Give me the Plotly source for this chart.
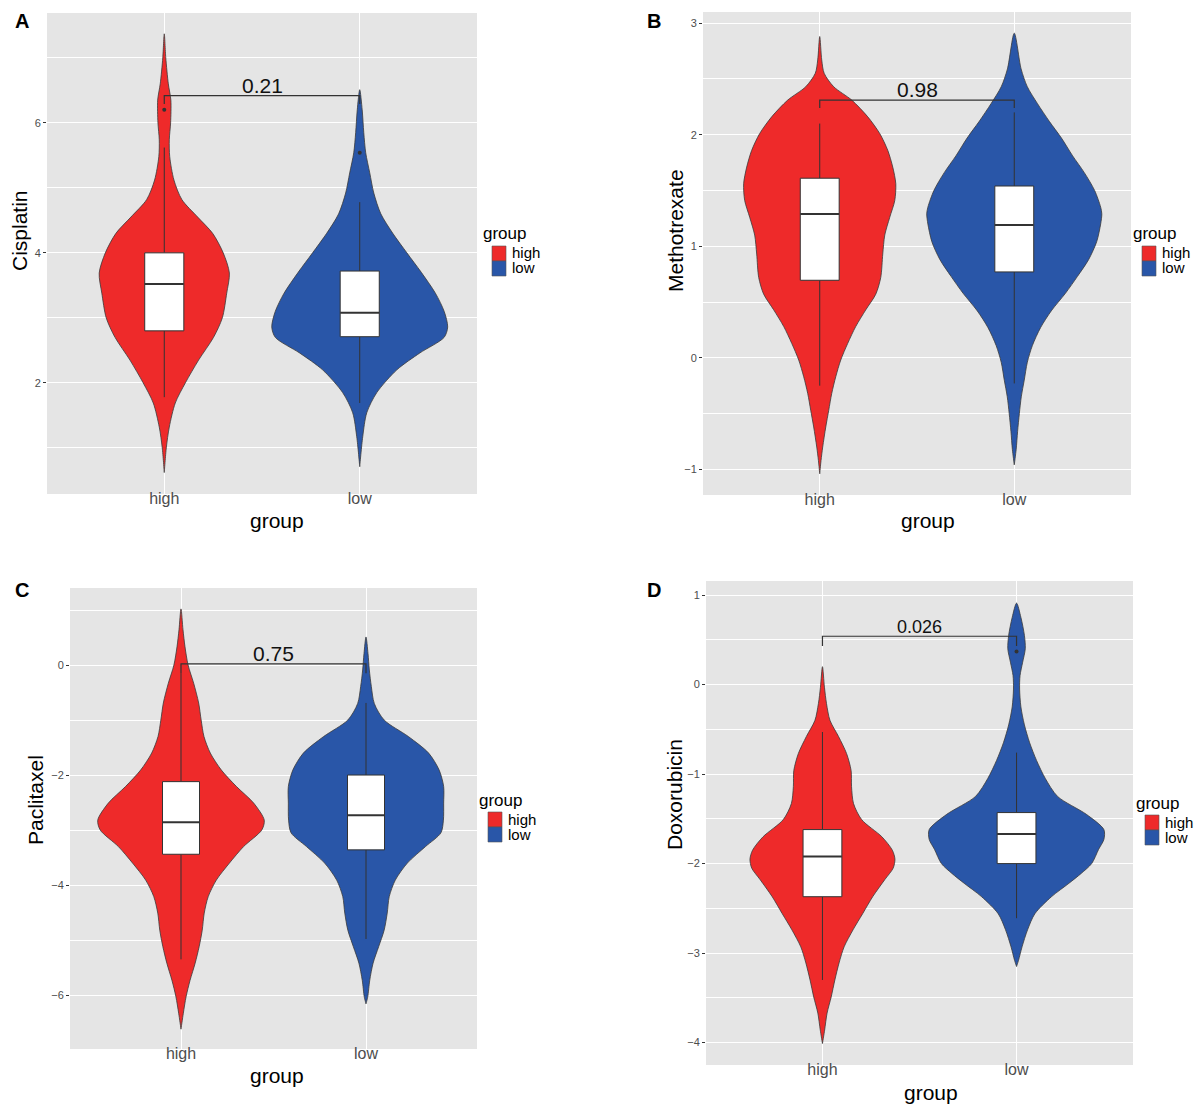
import plotly.graph_objects as go

W, H = 1201, 1104
FONT = "Liberation Sans, Arial, Helvetica, sans-serif"
RED = "#EE2A2A"
BLUE = "#2956A8"
OUTLINE = "#3A3A3A"
INK = "#333333"
PANEL_BG = "#E5E5E5"

groups = ["high", "low"]
group_colors = [RED, BLUE]

# ---------------- Cisplatin ----------------
cis_high_lvl = [7.37, 7.0, 6.6, 6.35, 6.0, 5.74, 5.48, 5.12, 4.82, 4.55, 4.3, 4.0, 3.69, 3.38,
                3.0, 2.7, 2.35, 2.0, 1.69, 1.32, 1.0, 0.62]
cis_high_dens = [0, 0.017, 0.046, 0.075, 0.072, 0.057, 0.062, 0.11, 0.2, 0.38, 0.55, 0.67, 0.74,
                 0.71, 0.66, 0.56, 0.39, 0.24, 0.125, 0.057, 0.023, 0]
cis_low_lvl = [6.51, 6.2, 5.85, 5.54, 5.23, 4.92, 4.6, 4.3, 4.0, 3.7, 3.38, 3.1, 2.86, 2.7, 2.46,
               2.2, 1.85, 1.54, 1.17, 0.71]
cis_low_dens = [0, 0.028, 0.046, 0.068, 0.114, 0.16, 0.24, 0.376, 0.536, 0.7, 0.86, 0.96, 1.0,
                0.96, 0.684, 0.422, 0.194, 0.08, 0.034, 0]
cis_q1 = [2.80, 2.71]
cis_median = [3.52, 3.08]
cis_q3 = [4.00, 3.72]
cis_lower = [1.78, 1.69]
cis_upper = [5.62, 4.78]
cis_outliers = [[6.20], [5.54]]
cis_p = "0.21"
cis_bracket = [6.42, 6.29]

# ---------------- Methotrexate ----------------
mtx_high_lvl = [2.88, 2.67, 2.55, 2.43, 2.31, 2.16, 2.01, 1.86, 1.71, 1.56, 1.41, 1.26, 1.1, 0.93,
                0.72, 0.57, 0.43, 0.28, 0.13, -0.02, -0.17, -0.32, -0.47, -0.62, -0.8, -0.92, -1.04]
mtx_high_dens = [0, 0.023, 0.051, 0.16, 0.366, 0.549, 0.686, 0.777, 0.834, 0.869, 0.857, 0.8, 0.743,
                 0.72, 0.697, 0.64, 0.526, 0.411, 0.32, 0.24, 0.183, 0.137, 0.103, 0.069, 0.034,
                 0.015, 0]
mtx_low_lvl = [2.91, 2.59, 2.43, 2.28, 2.12, 1.97, 1.81, 1.66, 1.5, 1.35, 1.29, 1.2, 1.04, 0.88,
               0.73, 0.58, 0.42, 0.27, 0.11, -0.04, -0.2, -0.35, -0.5, -0.66, -0.82, -0.96]
mtx_low_dens = [0, 0.078, 0.149, 0.264, 0.4, 0.539, 0.667, 0.8, 0.918, 0.987, 1.0, 0.987, 0.941,
                0.849, 0.722, 0.586, 0.422, 0.3, 0.207, 0.149, 0.114, 0.08, 0.058, 0.038, 0.022, 0]
mtx_q1 = [0.695, 0.77]
mtx_median = [1.29, 1.19]
mtx_q3 = [1.61, 1.54]
mtx_lower = [-0.25, -0.23]
mtx_upper = [2.10, 2.20]
mtx_outliers = [[], []]
mtx_p = "0.98"
mtx_bracket = [2.31, 2.24]

# ---------------- Paclitaxel ----------------
pac_high_lvl = [1.02, 0.64, 0.33, 0.0, -0.33, -0.69, -1.0, -1.3, -1.6, -1.91, -2.21, -2.51, -2.82,
                -3.0, -3.3, -3.6, -3.91, -4.21, -4.51, -4.82, -5.12, -5.42, -5.73, -6.03, -6.33,
                -6.62]
pac_high_dens = [0, 0.024, 0.048, 0.085, 0.152, 0.212, 0.242, 0.276, 0.352, 0.485, 0.667, 0.873,
                 1.0, 0.97, 0.752, 0.582, 0.424, 0.327, 0.279, 0.255, 0.218, 0.17, 0.109, 0.061,
                 0.028, 0]
pac_low_lvl = [0.51, 0.21, -0.09, -0.39, -0.7, -1.0, -1.3, -1.6, -1.91, -2.21, -2.51, -2.82, -3.05,
               -3.3, -3.6, -3.91, -4.21, -4.51, -4.82, -5.12, -5.42, -5.73, -6.03, -6.16]
pac_low_dens = [0, 0.024, 0.04, 0.064, 0.1, 0.218, 0.509, 0.752, 0.879, 0.933, 0.933, 0.93, 0.9,
                0.715, 0.497, 0.352, 0.279, 0.255, 0.218, 0.152, 0.085, 0.045, 0.021, 0]
pac_q1 = [-3.44, -3.36]
pac_median = [-2.86, -2.73]
pac_q3 = [-2.12, -2.00]
pac_lower = [-5.35, -4.98]
pac_upper = [-0.15, -0.69]
pac_outliers = [[], []]
pac_p = "0.75"
pac_bracket = [0.02, -0.15]

# ---------------- Doxorubicin ----------------
dox_high_lvl = [0.2, -0.03, -0.21, -0.4, -0.58, -0.77, -0.96, -1.14, -1.33, -1.51, -1.7, -1.85,
                -1.95, -2.05, -2.18, -2.37, -2.56, -2.74, -2.93, -3.11, -3.3, -3.49, -3.67, -3.86,
                -4.01]
dox_high_dens = [0, 0.023, 0.046, 0.086, 0.184, 0.276, 0.328, 0.333, 0.356, 0.45, 0.68, 0.8, 0.83,
                 0.81, 0.713, 0.575, 0.46, 0.35, 0.248, 0.19, 0.142, 0.1, 0.053, 0.025, 0]
dox_low_lvl = [0.91, 0.75, 0.55, 0.4, 0.25, 0.1, -0.05, -0.25, -0.45, -0.65, -0.85, -1.05, -1.25,
               -1.45, -1.62, -1.73, -1.84, -2.0, -2.11, -2.22, -2.37, -2.56, -2.74, -2.93, -3.08,
               -3.15]
dox_low_dens = [0, 0.05, 0.09, 0.1, 0.07, 0.04, 0.035, 0.05, 0.09, 0.15, 0.23, 0.33, 0.47, 0.8, 1.0,
                1.0, 0.94, 0.86, 0.74, 0.6, 0.4, 0.21, 0.126, 0.063, 0.023, 0]
dox_q1 = [-2.37, -2.00]
dox_median = [-1.92, -1.67]
dox_q3 = [-1.62, -1.43]
dox_lower = [-3.30, -2.61]
dox_upper = [-0.53, -0.76]
dox_outliers = [[], [0.37]]
dox_p = "0.026"
dox_bracket = [0.54, 0.43]

# panel geometry in pixels: left, right, top, bottom of the plotting area
panels = [
    dict(tag="A", tagpos=(22, 21), drug="Cisplatin", box=(47, 477, 13, 494), yr=(0.29, 7.69),
         dtick=2, minor=1,
         prof=[(cis_high_lvl, cis_high_dens), (cis_low_lvl, cis_low_dens)],
         stats=(cis_q1, cis_median, cis_q3, cis_lower, cis_upper), out=cis_outliers,
         p=cis_p, br=cis_bracket, pfont=21,
         ytitle=(20, 231), xtitle=(277, 520), leg=(483, 234)),
    dict(tag="B", tagpos=(654, 21), drug="Methotrexate", box=(703, 1131, 12, 495),
         yr=(-1.23, 3.10), dtick=1, minor=0.5,
         prof=[(mtx_high_lvl, mtx_high_dens), (mtx_low_lvl, mtx_low_dens)],
         stats=(mtx_q1, mtx_median, mtx_q3, mtx_lower, mtx_upper), out=mtx_outliers,
         p=mtx_p, br=mtx_bracket, pfont=21,
         ytitle=(676, 231), xtitle=(928, 520), leg=(1133, 234)),
    dict(tag="C", tagpos=(22, 590), drug="Paclitaxel", box=(70, 477, 588, 1049),
         yr=(-6.98, 1.40), dtick=2, minor=1,
         prof=[(pac_high_lvl, pac_high_dens), (pac_low_lvl, pac_low_dens)],
         stats=(pac_q1, pac_median, pac_q3, pac_lower, pac_upper), out=pac_outliers,
         p=pac_p, br=pac_bracket, pfont=21,
         ytitle=(35, 800), xtitle=(277, 1075), leg=(479, 800)),
    dict(tag="D", tagpos=(654, 590), drug="Doxorubicin", box=(706, 1133, 581, 1065),
         yr=(-4.25, 1.157), dtick=1, minor=0.5,
         prof=[(dox_high_lvl, dox_high_dens), (dox_low_lvl, dox_low_dens)],
         stats=(dox_q1, dox_median, dox_q3, dox_lower, dox_upper), out=dox_outliers,
         p=dox_p, br=dox_bracket, pfont=18,
         ytitle=(674, 795), xtitle=(931, 1092), leg=(1136, 803)),
]


def px(x):
    return x / W


def py(y):
    return 1 - y / H


fig = go.Figure()
shapes = []
annotations = []
HALF = 0.45      # widest violin spans 0.9 of a category
BOX_W = 0.2


def line_trace(xs, ys, xa, ya, width=1.0, **kw):
    return go.Scatter(x=xs, y=ys, xaxis=xa, yaxis=ya, mode="lines",
                      line=dict(color=INK, width=width), hoverinfo="skip",
                      showlegend=False, **kw)


for i, pn in enumerate(panels):
    n = "" if i == 0 else str(i + 1)
    xa, ya = "x" + n, "y" + n
    left, right, top, bottom = pn["box"]

    # violins
    for g, (lvl, dens) in enumerate(pn["prof"]):
        pos = g + 1
        xs = [pos + HALF * d for d in dens] + [pos - HALF * d for d in reversed(dens)]
        ys = list(lvl) + list(reversed(lvl))
        fig.add_trace(go.Scatter(
            x=xs, y=ys, xaxis=xa, yaxis=ya, mode="lines", fill="toself",
            fillcolor=group_colors[g],
            line=dict(color=OUTLINE, width=0.8, shape="spline", smoothing=0.8),
            hoverinfo="skip", showlegend=False))

    # boxplots: whiskers, white box, thick median, outliers
    q1, med, q3, lo, hi = pn["stats"]
    for g in range(2):
        pos = g + 1
        x0, x1 = pos - BOX_W / 2, pos + BOX_W / 2
        fig.add_trace(line_trace([pos, pos], [lo[g], q1[g]], xa, ya))
        fig.add_trace(line_trace([pos, pos], [q3[g], hi[g]], xa, ya))
        fig.add_trace(line_trace([x0, x1, x1, x0, x0], [q1[g], q1[g], q3[g], q3[g], q1[g]],
                                 xa, ya, fill="toself", fillcolor="white"))
        fig.add_trace(line_trace([x0, x1], [med[g], med[g]], xa, ya, width=2))
        if pn["out"][g]:
            fig.add_trace(go.Scatter(
                x=[pos] * len(pn["out"][g]), y=pn["out"][g], mode="markers",
                marker=dict(color=INK, size=4), xaxis=xa, yaxis=ya, showlegend=False,
                hoverinfo="skip"))

    # significance bracket and p-value
    top_y, tip_y = pn["br"]
    fig.add_trace(line_trace([1, 1, 2, 2], [tip_y, top_y, top_y, tip_y], xa, ya, width=1.2))
    annotations.append(dict(
        x=1.5, y=top_y, xref=xa, yref=ya, text=pn["p"], showarrow=False,
        xanchor="center", yanchor="bottom", yshift=-3,
        font=dict(family=FONT, size=pn["pfont"], color="#111111")))

    axis_common = dict(showline=False, zeroline=False, gridcolor="white", gridwidth=1.3)
    fig.update_layout(**{
        ("xaxis" + n): dict(
            domain=[px(left), px(right)], anchor=ya, range=[0.4, 2.6],
            tickvals=[1, 2], ticktext=groups, showgrid=True, ticks="", ticklabelstandoff=-7,
            tickfont=dict(family=FONT, size=16, color="#4D4D4D"), **axis_common),
        ("yaxis" + n): dict(
            domain=[py(bottom), py(top)], anchor=xa, range=list(pn["yr"]),
            tick0=0, dtick=pn["dtick"], showgrid=True,
            ticks="outside", ticklen=3, tickwidth=1, tickcolor=INK,
            minor=dict(tick0=0, dtick=pn["minor"], showgrid=True, gridcolor="white", gridwidth=0.6),
            tickfont=dict(family=FONT, size=11, color="#4D4D4D"), **axis_common),
    })

    # axis titles
    tx, ty = pn["ytitle"]
    annotations.append(dict(x=px(tx), y=py(ty), xref="paper", yref="paper", text=pn["drug"],
                            textangle=-90, showarrow=False, xanchor="center", yanchor="middle",
                            font=dict(family=FONT, size=21, color="black")))
    gx, gy = pn["xtitle"]
    annotations.append(dict(x=px(gx), y=py(gy), xref="paper", yref="paper", text="group",
                            showarrow=False, xanchor="center", yanchor="middle",
                            font=dict(family=FONT, size=21, color="black")))

    # panel tag
    tgx, tgy = pn["tagpos"]
    annotations.append(dict(x=px(tgx), y=py(tgy), xref="paper", yref="paper",
                            text="<b>%s</b>" % pn["tag"], showarrow=False,
                            xanchor="center", yanchor="middle",
                            font=dict(family=FONT, size=20, color="black")))

    # legend
    lx, ly = pn["leg"]
    annotations.append(dict(x=px(lx - 2), y=py(ly), xref="paper", yref="paper", text="group",
                            showarrow=False, xanchor="left", yanchor="middle",
                            font=dict(family=FONT, size=17, color="black")))
    for g in range(2):
        k_top = ly + 12 + 15 * g
        shapes.append(dict(type="rect", xref="paper", yref="paper",
                           x0=px(lx + 9), x1=px(lx + 23), y0=py(k_top + 15), y1=py(k_top),
                           fillcolor=group_colors[g], line=dict(color="#555555", width=0.6)))
        annotations.append(dict(x=px(lx + 27), y=py(k_top + 7), xref="paper", yref="paper",
                                text=groups[g], showarrow=False, xanchor="left", yanchor="middle",
                                font=dict(family=FONT, size=15, color="black")))

fig.update_layout(width=W, height=H, margin=dict(l=0, r=0, t=0, b=0),
                  paper_bgcolor="white", plot_bgcolor=PANEL_BG, showlegend=False,
                  font=dict(family=FONT), shapes=shapes, annotations=annotations)

fig.write_html("out.html")
